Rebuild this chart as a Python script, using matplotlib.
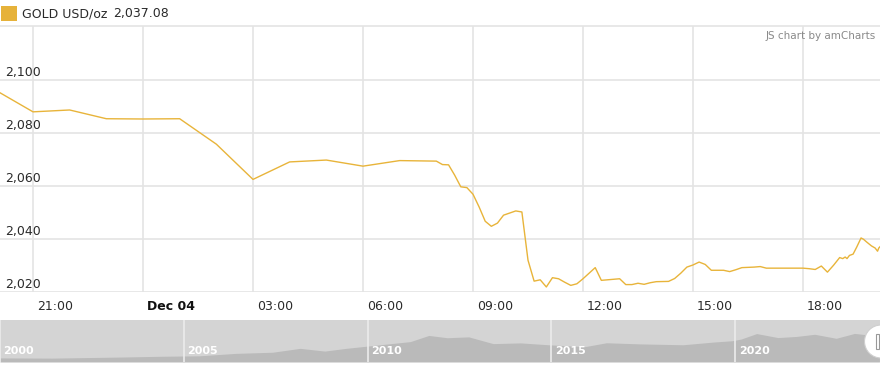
import matplotlib
matplotlib.use("Agg")
import matplotlib.pyplot as plt
import pandas as pd
from matplotlib.patches import Rectangle, Circle
from matplotlib.transforms import IdentityTransform, blended_transform_factory

# ---- main series (Dec 3-4, 2023) ----
times = [
    "2023-12-03 20:00", "2023-12-03 21:00", "2023-12-03 22:00", "2023-12-03 23:00",
    "2023-12-04 00:00", "2023-12-04 01:00", "2023-12-04 02:00", "2023-12-04 03:00",
    "2023-12-04 04:00", "2023-12-04 05:00", "2023-12-04 06:00", "2023-12-04 07:00",
    "2023-12-04 08:00", "2023-12-04 08:10", "2023-12-04 08:20", "2023-12-04 08:30",
    "2023-12-04 08:40", "2023-12-04 08:50", "2023-12-04 09:00", "2023-12-04 09:10",
    "2023-12-04 09:20", "2023-12-04 09:30", "2023-12-04 09:40", "2023-12-04 09:50",
    "2023-12-04 10:00", "2023-12-04 10:10", "2023-12-04 10:20", "2023-12-04 10:30",
    "2023-12-04 10:40", "2023-12-04 10:50", "2023-12-04 11:00", "2023-12-04 11:10",
    "2023-12-04 11:20", "2023-12-04 11:30", "2023-12-04 11:40", "2023-12-04 11:50",
    "2023-12-04 12:00", "2023-12-04 12:20", "2023-12-04 12:30", "2023-12-04 12:40",
    "2023-12-04 13:00", "2023-12-04 13:10", "2023-12-04 13:20", "2023-12-04 13:30",
    "2023-12-04 13:40", "2023-12-04 13:50", "2023-12-04 14:00", "2023-12-04 14:20",
    "2023-12-04 14:30", "2023-12-04 14:40", "2023-12-04 14:50", "2023-12-04 15:00",
    "2023-12-04 15:10", "2023-12-04 15:20", "2023-12-04 15:30", "2023-12-04 15:50",
    "2023-12-04 16:00", "2023-12-04 16:10", "2023-12-04 16:20", "2023-12-04 16:40",
    "2023-12-04 16:50", "2023-12-04 17:00", "2023-12-04 18:00", "2023-12-04 18:10",
    "2023-12-04 18:20", "2023-12-04 18:30", "2023-12-04 18:40", "2023-12-04 18:50",
    "2023-12-04 19:00", "2023-12-04 19:05", "2023-12-04 19:09", "2023-12-04 19:12",
    "2023-12-04 19:16", "2023-12-04 19:22", "2023-12-04 19:28", "2023-12-04 19:35",
    "2023-12-04 19:39", "2023-12-04 19:44", "2023-12-04 19:52", "2023-12-04 19:58",
    "2023-12-04 20:02", "2023-12-04 20:04", "2023-12-04 20:06",
]
prices = [
    2096.0, 2088.0, 2088.7, 2085.4,
    2085.3, 2085.4, 2075.8, 2062.5,
    2069.1, 2069.8, 2067.5, 2069.6,
    2069.4, 2068.1, 2068.0, 2064.1,
    2059.7, 2059.4, 2056.9, 2052.1,
    2046.7, 2044.8, 2046.0, 2049.0,
    2049.8, 2050.6, 2050.2, 2032.0,
    2024.1, 2024.6, 2021.9, 2025.4,
    2025.0, 2023.7, 2022.5, 2023.1,
    2025.0, 2029.2, 2024.4, 2024.6,
    2025.0, 2022.8, 2022.8, 2023.3,
    2022.9, 2023.5, 2023.9, 2024.0,
    2025.1, 2027.1, 2029.4, 2030.2,
    2031.3, 2030.4, 2028.2, 2028.2,
    2027.7, 2028.4, 2029.2, 2029.4,
    2029.6, 2029.0, 2029.0, 2028.8,
    2028.5, 2029.8, 2027.5, 2030.1,
    2033.0, 2032.6, 2033.2, 2032.6,
    2033.8, 2034.3, 2037.0, 2040.4,
    2039.9, 2038.9, 2037.4, 2036.6,
    2035.4, 2036.6, 2037.08,
]

ytick_values = [2020, 2040, 2060, 2080, 2100]
xtick_times = ["2023-12-03 21:00", "2023-12-04 00:00", "2023-12-04 03:00", "2023-12-04 06:00",
               "2023-12-04 09:00", "2023-12-04 12:00", "2023-12-04 15:00", "2023-12-04 18:00"]
xtick_labels = ["21:00", "Dec 04", "03:00", "06:00", "09:00", "12:00", "15:00", "18:00"]

series_name = "GOLD USD/oz"
last_value = "2,037.08"

# ---- navigator (long-term history) ----
nav_dates = ["2000-01-01", "2001-06-01", "2002-06-01", "2003-06-01", "2004-06-01",
             "2005-06-01", "2006-06-01", "2007-06-01", "2008-03-01", "2008-11-01",
             "2009-06-01", "2010-06-01", "2011-03-01", "2011-09-01", "2012-03-01",
             "2012-10-01", "2013-06-01", "2014-03-01", "2014-12-01", "2015-12-01",
             "2016-07-01", "2017-06-01", "2018-08-01", "2019-06-01", "2019-12-01",
             "2020-03-01", "2020-08-01", "2021-03-01", "2021-09-01", "2022-03-01",
             "2022-10-01", "2023-04-01", "2023-10-01", "2023-12-04"]
nav_prices = [285, 270, 310, 350, 400,
              430, 600, 680, 950, 760,
              950, 1220, 1420, 1850, 1690,
              1750, 1280, 1330, 1200, 1070,
              1340, 1260, 1200, 1390, 1480,
              1600, 1980, 1700, 1780, 1930,
              1650, 1990, 1850, 2030]
nav_label_years = ["2000", "2005", "2010", "2015", "2020"]

W, H = 880, 368
fig = plt.figure(figsize=(W / 100, H / 100), dpi=100)
plt.rcParams['font.family'] = ['DejaVu Sans']

line_color = '#e8b43a'
grid_color = '#e4e4e4'
text_color = '#2a2a2a'

# main axes: px x 0..880, y 26..292
ax = fig.add_axes([0, (H - 292) / H, 1, (292 - 26) / H])
t = pd.to_datetime(times)
ax.plot(t, prices, color=line_color, lw=1.0, zorder=3, solid_joinstyle='round')
ax.set_xlim(pd.Timestamp("2023-12-03 20:06"), pd.Timestamp("2023-12-04 20:06"))
ax.set_ylim(2020, 2120.4)
ax.set_yticks(ytick_values)
ax.set_xticks(pd.to_datetime(xtick_times))
ax.grid(True, color=grid_color, lw=1.2)
ax.tick_params(length=0, labelbottom=False, labelleft=False)
for s in ['left', 'right', 'bottom']:
    ax.spines[s].set_visible(False)
ax.spines['top'].set_color(grid_color)
ax.spines['top'].set_linewidth(1.2)
ax.set_axisbelow(True)

ytr = blended_transform_factory(ax.transAxes, ax.transData)
for v in ytick_values:
    ax.annotate(f"{v:,}", xy=(0, v), xycoords=ytr, xytext=(5 * 0.72, 0.5),
                textcoords='offset points', ha='left', va='bottom',
                fontsize=9, color=text_color)

for xt, lab in zip(pd.to_datetime(xtick_times), xtick_labels):
    ax.annotate(lab, xy=(xt, 0), xycoords=('data', 'axes fraction'),
                xytext=(4 * 0.72, -15 * 0.72), textcoords='offset points',
                ha='left', va='center', fontsize=9, color='#111' if lab.startswith('Dec') else text_color,
                fontweight='bold' if lab.startswith('Dec') else 'normal', annotation_clip=False)

# header
fig.add_artist(Rectangle((1, H - 21), 16, 15, transform=IdentityTransform(),
                         facecolor='#e6b23a', edgecolor='none'))
fig.text(22 / W, 1 - 14 / H, series_name, ha='left', va='center', fontsize=9, color=text_color)
fig.text(113 / W, 1 - 14 / H, last_value, ha='left', va='center', fontsize=9, color=text_color)
fig.text(876 / W, 1 - 36 / H, "JS chart by amCharts", ha='right', va='center',
         fontsize=7.5, color='#8a8a8a')

# navigator: px y 320..362
ax2 = fig.add_axes([0, (H - 362) / H, 1, 42 / H])
ax2.set_facecolor('#d4d4d4')
nd = pd.to_datetime(nav_dates)
ax2.fill_between(nd, nav_prices, 0, color='#bababa', lw=0)
ax2.set_xlim(pd.Timestamp("2000-01-01"), pd.Timestamp("2023-12-10"))
ax2.set_ylim(0, 2925)
ax2.set_xticks([]); ax2.set_yticks([])
for s in ax2.spines.values():
    s.set_visible(False)
for yl in nav_label_years:
    d = pd.Timestamp(f"{yl}-01-01")
    ax2.axvline(d, color='#ececec', lw=1.2)
    ax2.annotate(yl, xy=(d, 0), xycoords=('data', 'axes fraction'),
                 xytext=(3.5 * 0.72, 6 * 0.72), textcoords='offset points',
                 ha='left', va='bottom', fontsize=8, fontweight='bold', color='white')

# grip handle
fig.add_artist(Circle((881, H - 341.5), 16.5, transform=IdentityTransform(),
                      facecolor='white', edgecolor='#cfcfcf', lw=0.8, zorder=10))
fig.add_artist(Rectangle((875.5, H - 349), 3, 15, transform=IdentityTransform(),
                         facecolor='white', edgecolor='#999999', lw=0.8, zorder=11))

fig.savefig("out.png", dpi=100)
